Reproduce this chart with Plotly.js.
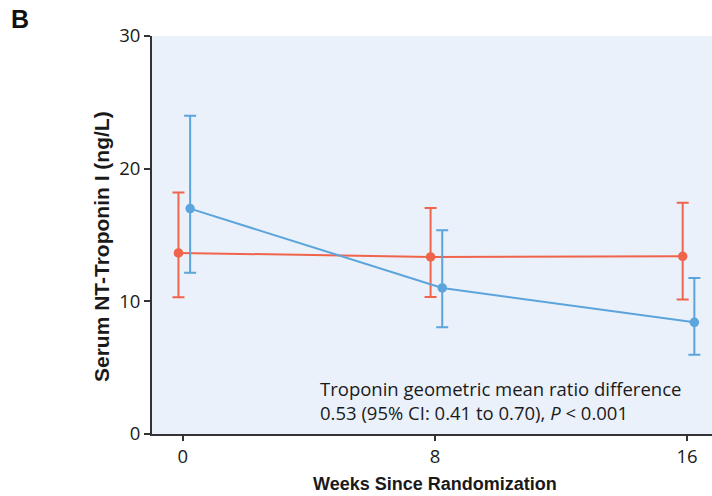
<!DOCTYPE html>
<html>
<head>
<meta charset="utf-8">
<script src="https://cdn.plot.ly/plotly-3.0.1.min.js"></script>
<style>html,body{margin:0;padding:0;background:#fff;}#chart{width:712px;height:496px;}</style>
</head>
<body>
<div id="chart"></div>
<script>
// Data
const weeks = [0, 8, 16];
const redMean = [13.65, 13.35, 13.39];
const redUpper = [18.21, 17.04, 17.44];
const redLower = [10.30, 10.33, 10.13];
const blueMean = [16.99, 11.01, 8.42];
const blueUpper = [23.99, 15.35, 11.76];
const blueLower = [12.16, 8.04, 5.98];
const redOffset = -0.14;
const blueOffset = 0.23;
const xTickVals = [0, 8, 16];
const yTickVals = [0, 10, 20, 30];

const RED = '#f0644c';
const BLUE = '#5ba4dc';
const TXT = '#1a1a1a';

function trace(mean, up, lo, off, color) {
  return {
    type: 'scatter', mode: 'lines+markers',
    x: weeks.map(w => w + off), y: mean,
    line: {color: color, width: 2},
    marker: {color: color, size: 9.5},
    error_y: {type: 'data', symmetric: false,
      array: up.map((u, i) => u - mean[i]),
      arrayminus: lo.map((l, i) => mean[i] - l),
      color: color, thickness: 2, width: 6},
    hoverinfo: 'skip', cliponaxis: false
  };
}

const data = [
  trace(redMean, redUpper, redLower, redOffset, RED),
  trace(blueMean, blueUpper, blueLower, blueOffset, BLUE)
];

const titleFont = {family: 'Liberation Sans Narrow, Arial Narrow, sans-serif', color: TXT, weight: 'bold'};

const layout = {
  width: 712, height: 496,
  margin: {l: 152, r: 0, t: 36, b: 62},
  paper_bgcolor: '#ffffff',
  plot_bgcolor: '#eaf1fa',
  showlegend: false,
  font: {family: 'Open Sans, sans-serif', color: TXT, size: 18.5},
  xaxis: {
    range: [-0.98, 16.79],
    tickmode: 'array',
    tickvals: xTickVals, ticktext: xTickVals.map(String),
    ticks: 'outside', ticklen: 5, tickwidth: 2, tickcolor: '#333',
    showline: true, linecolor: '#333', linewidth: 2,
    showgrid: false, zeroline: false,
    tickfont: {family: 'Open Sans, sans-serif', size: 18.5, color: TXT},
    title: {text: ''}
  },
  yaxis: {
    range: [0, 30],
    tickmode: 'array',
    tickvals: yTickVals, ticktext: yTickVals.map(String),
    ticks: 'outside', ticklen: 6, tickwidth: 2, tickcolor: '#333',
    showline: true, linecolor: '#333', linewidth: 2,
    showgrid: false, zeroline: false,
    tickfont: {family: 'Open Sans, sans-serif', size: 18.5, color: TXT},
    title: {text: ''}
  },
  annotations: [
    {xref: 'paper', yref: 'paper', x: -152/560, y: 1 + 36/398, xanchor: 'left', yanchor: 'top',
     text: '<b>B</b>', showarrow: false, font: {family: 'Liberation Sans, Arial, sans-serif', size: 25, color: '#111'}, xshift: 9, yshift: -3},
    {xref: 'paper', yref: 'paper', x: (101-152)/560, y: (434-247)/398, xanchor: 'center', yanchor: 'middle',
     textangle: -90, text: 'Serum NT-Troponin I (ng/L)', showarrow: false,
     font: Object.assign({size: 21}, titleFont)},
    {xref: 'paper', yref: 'paper', x: (435-152)/560, y: -(483.5-434)/398, xanchor: 'center', yanchor: 'middle',
     text: 'Weeks Since Randomization', showarrow: false,
     font: Object.assign({size: 18}, titleFont)},
    {xref: 'paper', yref: 'paper', x: (318-152)/560, y: (434-374)/398, xanchor: 'left', yanchor: 'top', align: 'left',
     text: 'Troponin geometric mean ratio difference<br>0.53 (95% CI: 0.41 to 0.70), <i>P</i> < 0.001',
     showarrow: false, font: {family: 'Open Sans, sans-serif', size: 18.5, color: TXT}}
  ]
};

Plotly.newPlot('chart', data, layout, {displayModeBar: false, staticPlot: true});
</script>
</body>
</html>
